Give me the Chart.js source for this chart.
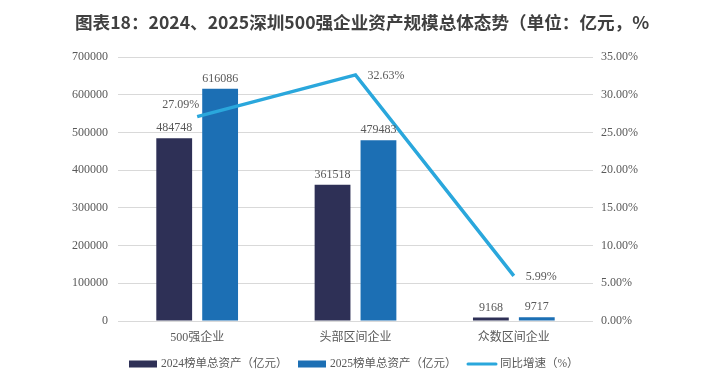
<!DOCTYPE html>
<html>
<head>
<meta charset="utf-8">
<script src="https://cdn.jsdelivr.net/npm/chart.js@4.4.0/dist/chart.umd.min.js"></script>
<style>
  html, body { margin: 0; padding: 0; background: #fff; }
  #wrap { width: 707px; height: 384px; position: relative; }
</style>
</head>
<body>
<div id="wrap"><canvas id="myChart" width="707" height="384"></canvas></div>
<script>
const categories = ['500强企业', '头部区间企业', '众数区间企业']
const assets2024 = [484748, 361518, 9168]
const assets2025 = [616086, 479483, 9717]
const growthRate = [27.09, 32.63, 5.99]
const leftTicks = [0, 100000, 200000, 300000, 400000, 500000, 600000, 700000]
const rightTicks = [0, 5, 10, 15, 20, 25, 30, 35]

const TITLE = '图表18：2024、2025深圳500强企业资产规模总体态势（单位：亿元，%'
const SERIF = '"Liberation Serif", "Times New Roman", "Noto Sans CJK SC", serif'
const TEXT = '#595959'

// title, value labels and legend drawn by hand
const decorPlugin = {
  id: 'decor',
  afterDatasetsDraw(chart) {
    const { ctx } = chart
    ctx.save()
    ctx.font = '12px ' + SERIF
    ctx.fillStyle = TEXT
    // bar labels
    ;[0, 1].forEach((di) => {
      const meta = chart.getDatasetMeta(di)
      meta.data.forEach((bar, i) => {
        ctx.textAlign = 'center'
        ctx.textBaseline = 'bottom'
        ctx.fillText(String(chart.data.datasets[di].data[i]), bar.x, bar.y - 4)
      })
    })
    // line labels
    const lm = chart.getDatasetMeta(2)
    lm.data.forEach((pt, i) => {
      const txt = growthRate[i].toFixed(2) + '%'
      ctx.textBaseline = 'middle'
      if (i === 0) {
        ctx.textAlign = 'right'
        ctx.fillText(txt, pt.x + 2, pt.y - 12)
      } else {
        ctx.textAlign = 'left'
        ctx.fillText(txt, pt.x + 12, pt.y + 1)
      }
    })
    ctx.restore()
  },
  afterDraw(chart) {
    const { ctx } = chart
    ctx.save()
    // title
    ctx.font = 'bold 17.6px "Noto Sans CJK SC", sans-serif'
    ctx.fillStyle = '#404040'
    ctx.textAlign = 'left'
    ctx.textBaseline = 'middle'
    ctx.fillText(TITLE, 75, 22)
    // legend
    const ly = 364
    ctx.font = '11.5px ' + SERIF
    const ds = chart.data.datasets
    ctx.fillStyle = ds[0].backgroundColor
    ctx.fillRect(129, ly - 3.5, 28, 7)
    ctx.fillStyle = TEXT
    ctx.fillText(ds[0].label, 161, ly)
    ctx.fillStyle = ds[1].backgroundColor
    ctx.fillRect(298, ly - 3.5, 28, 7)
    ctx.fillStyle = TEXT
    ctx.fillText(ds[1].label, 330, ly)
    ctx.strokeStyle = ds[2].borderColor
    ctx.lineWidth = 3
    ctx.lineCap = 'round'
    ctx.beginPath()
    ctx.moveTo(468, ly)
    ctx.lineTo(496, ly)
    ctx.stroke()
    ctx.fillText(ds[2].label, 500, ly)
    ctx.restore()
  },
}

const ctx = document.getElementById('myChart').getContext('2d')
new Chart(ctx, {
  type: 'bar',
  data: {
    labels: categories,
    datasets: [
      {
        label: '2024榜单总资产（亿元）',
        data: assets2024,
        backgroundColor: '#2E3056',
        yAxisID: 'y',
        order: 1,
      },
      {
        label: '2025榜单总资产（亿元）',
        data: assets2025,
        backgroundColor: '#1C6FB4',
        yAxisID: 'y',
        order: 1,
      },
      {
        type: 'line',
        label: '同比增速（%）',
        data: growthRate,
        borderColor: '#2AA7DC',
        backgroundColor: '#2AA7DC',
        borderWidth: 3.5,
        pointRadius: 0,
        tension: 0,
        yAxisID: 'y1',
        order: 0,
      },
    ],
  },
  options: {
    responsive: false,
    animation: false,
    devicePixelRatio: 1,
    layout: { padding: { top: 57, bottom: 0, left: 0, right: 0 } },
    categoryPercentage: 0.58,
    barPercentage: 0.78,
    plugins: {
      legend: { display: false },
      title: { display: false },
      tooltip: { enabled: false },
    },
    scales: {
      x: {
        grid: { display: false, drawTicks: false },
        border: { display: false },
        ticks: { color: TEXT, font: { family: SERIF, size: 12 }, padding: 10 },
        afterFit(scale) { scale.height = 63 },
      },
      y: {
        position: 'left',
        min: 0,
        max: 700000,
        afterBuildTicks(scale) { scale.ticks = leftTicks.map((v) => ({ value: v })) },
        grid: { color: '#d9d9d9', lineWidth: 1, drawTicks: false },
        border: { display: false },
        ticks: { color: TEXT, font: { family: SERIF, size: 12 }, padding: 10, callback: (v) => String(v) },
        afterFit(scale) { scale.width = 118 },
      },
      y1: {
        position: 'right',
        min: 0,
        max: 35,
        afterBuildTicks(scale) { scale.ticks = rightTicks.map((v) => ({ value: v })) },
        grid: { display: false, drawTicks: false },
        border: { display: false },
        ticks: { color: TEXT, font: { family: SERIF, size: 12 }, padding: 8, callback: (v) => Number(v).toFixed(2) + '%' },
        afterFit(scale) { scale.width = 114 },
      },
    },
  },
  plugins: [decorPlugin],
})
</script>
</body>
</html>
